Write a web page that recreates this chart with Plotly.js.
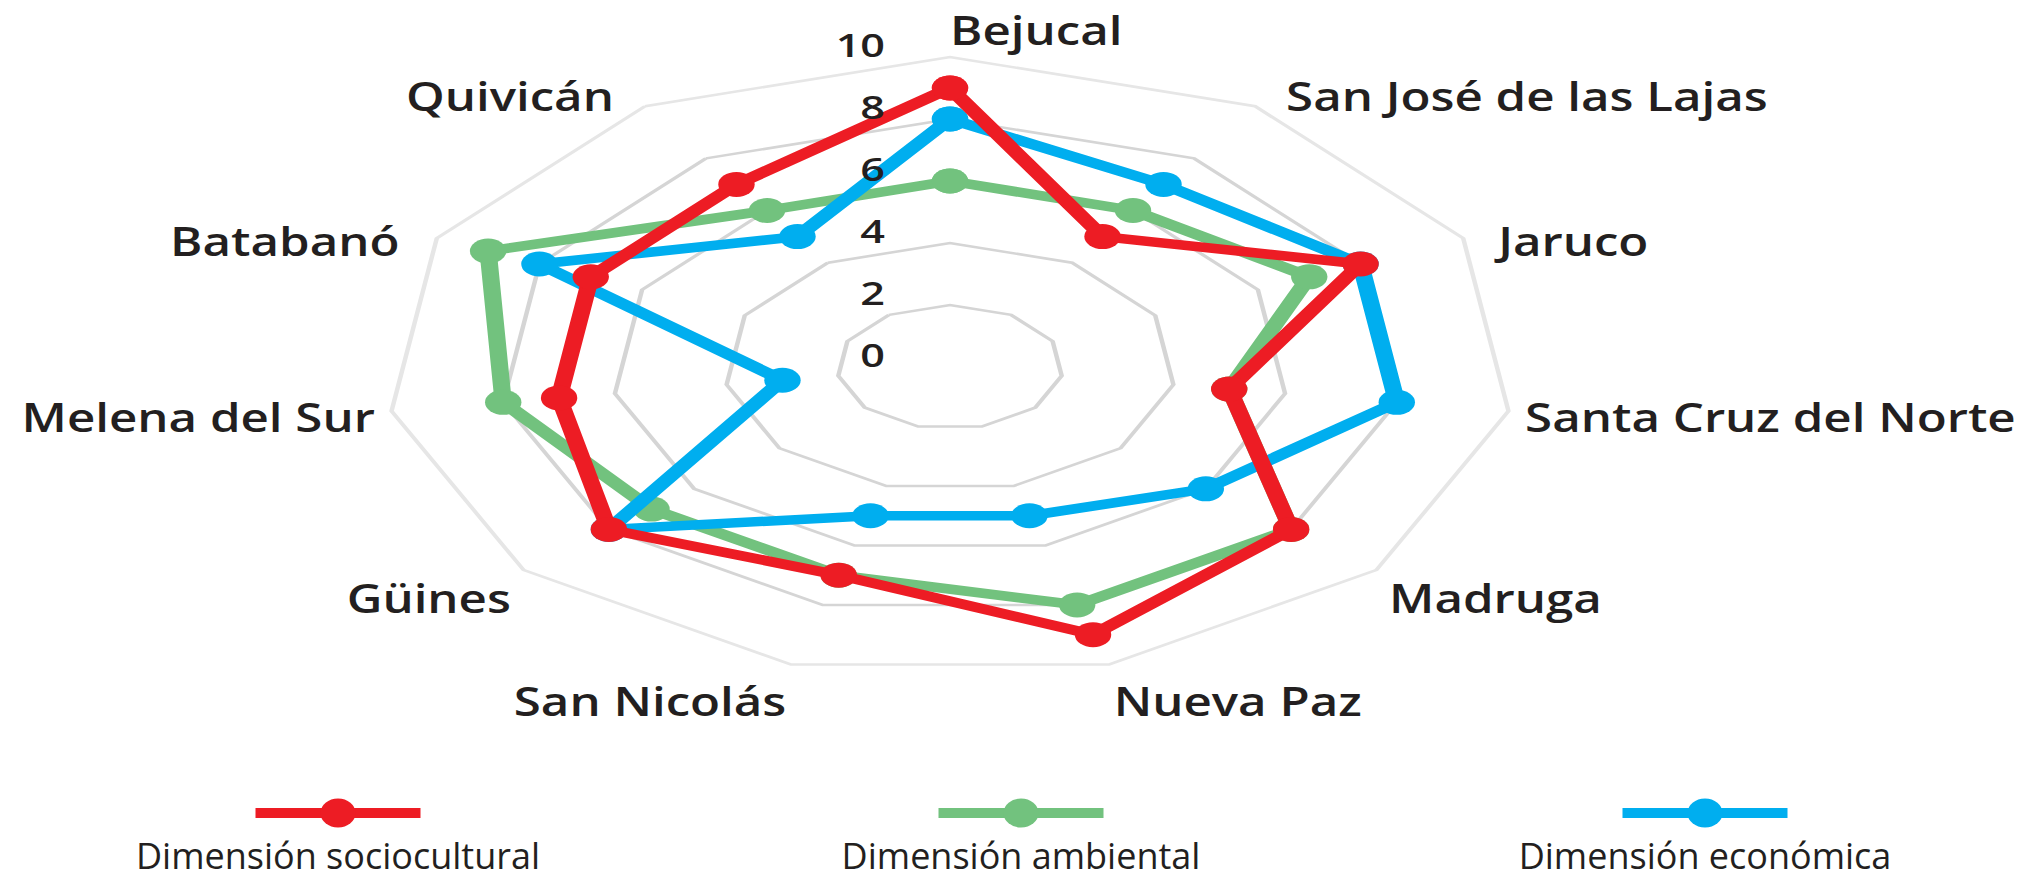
<!DOCTYPE html>
<html>
<head>
<meta charset="utf-8">
<script src="https://cdn.plot.ly/plotly-3.0.1.min.js"></script>
<style>
html,body{margin:0;padding:0;background:#ffffff;overflow:hidden}
#chart{width:2023px;height:879px}
</style>
</head>
<body>
<div id="chart"></div>
<script>
// ---- data ----
const categories = ['Bejucal','San José de las Lajas','Jaruco','Santa Cruz del Norte','Madruga','Nueva Paz','San Nicolás','Güines','Melena del Sur','Batabanó','Quivicán'];
const sociocultural = [9, 5, 8, 5, 8, 9, 7, 8, 7, 7, 7];
const ambiental     = [6, 6, 7, 5, 8, 8, 7, 7, 8, 9, 6];
const economica     = [8, 7, 8, 8, 6, 5, 5, 8, 3, 8, 5];
const seriesNames = ['Dimensión sociocultural', 'Dimensión ambiental', 'Dimensión económica'];
const radialTicks = [0, 2, 4, 6, 8, 10];

// ---- style ----
const RED = '#ED1C24', GREEN = '#72C27E', BLUE = '#00AEEF', INK = '#231F20';
const W = 2023, H = 879;
const M = {l: 330, r: 453, t: 57, b: 202};
const STRETCH = 1.82;         // horizontal stretch of the radar
const LABEL_STRETCH = 1.23;   // horizontal stretch of category labels
const TICK_STRETCH = 1.35;    // horizontal stretch of radial tick labels

function closed(arr) { return arr.concat([arr[0]]); }
function mk(name, vals, color, rank) {
  return {
    type: 'scatterpolar', mode: 'lines+markers', name: name,
    theta: closed(categories), r: closed(vals),
    line: {color: color, width: 9.5},
    marker: {color: color, size: 25, symbol: 'circle'},
    legendrank: rank, cliponaxis: false
  };
}
const traces = [
  mk(seriesNames[1], ambiental, GREEN, 2),
  mk(seriesNames[2], economica, BLUE, 3),
  mk(seriesNames[0], sociocultural, RED, 1)
];

const layout = {
  width: W, height: H,
  margin: M,
  paper_bgcolor: '#ffffff',
  font: {family: '"Open Sans", "DejaVu Sans", sans-serif', color: INK},
  showlegend: true,
  legend: {orientation: 'h', x: 0, y: -0.1, xanchor: 'left', yanchor: 'top',
           bgcolor: 'rgba(0,0,0,0)', font: {size: 36, color: INK}},
  polar: {
    bgcolor: '#ffffff',
    gridshape: 'linear',
    domain: {x: [0, 1], y: [0, 1]},
    radialaxis: {
      range: [0, 10], tickvals: radialTicks, ticktext: radialTicks.map(String),
      angle: 90, side: 'counterclockwise', tickangle: 90,
      showline: false, ticks: 'outside', ticklen: 24, tickcolor: 'rgba(0,0,0,0)',
      gridcolor: '#d5d5d5', gridwidth: 2.5,
      tickfont: {size: 32, color: INK, weight: 600}
    },
    angularaxis: {
      type: 'category', categoryarray: categories,
      direction: 'clockwise', rotation: 90,
      showgrid: false, showline: true, linecolor: '#e6e6e6', linewidth: 2.5,
      ticks: '', tickfont: {size: 40, color: INK, weight: 600}
    }
  }
};

const gd = document.getElementById('chart');
Plotly.newPlot(gd, traces, layout, {staticPlot: true, displayModeBar: false}).then(post);

function post() {
  let cx = M.l + (W - M.l - M.r) / 2, cy = M.t + (H - M.t - M.b) / 2;
  try {
    const sub = gd._fullLayout.polar._subplot;
    if (sub && isFinite(sub.cx)) { cx = sub.cx; cy = sub.cy; }
  } catch (e) {}

  // stretch graphic layers about the centre
  ['plotbg','backplot','angular-grid','radial-grid','frontplot','angular-line','radial-line'].forEach(n => {
    gd.querySelectorAll('.polarlayer g.' + n).forEach(g => {
      if (g.parentNode.closest && g.parentNode.closest('g.' + n)) return;
      const o = g.getAttribute('transform') || '';
      g.setAttribute('transform', `translate(${cx},${cy}) scale(${STRETCH},1) translate(${-cx},${-cy}) ${o}`);
    });
  });
  // make markers less elongated
  gd.querySelectorAll('.polarlayer .frontplot path.point').forEach(p => {
    const o = p.getAttribute('transform') || '';
    p.setAttribute('transform', o + ' scale(0.8,1)');
  });

  // move & stretch text
  function adjustText(el, stretch, extraDy, isLabel) {
    const r = el.getBoundingClientRect();
    if (!r.width) return;
    const svg = el.ownerSVGElement;
    const sr = svg.getBoundingClientRect();
    const anc = el.getAttribute('text-anchor') || 'start';
    const bb = el.getBBox();
    const pcy = (r.top + r.bottom) / 2 - sr.top;
    let pax, lax, extraDx = 0;
    if (anc === 'end') { pax = r.right; lax = bb.x + bb.width; }
    else if (anc === 'middle') {
      pax = (r.left + r.right) / 2; lax = bb.x + bb.width / 2;
      if (isLabel) { extraDx = r.width * stretch / 2; extraDy += 5; }
    }
    else { pax = r.left; lax = bb.x; }
    if (isLabel && anc !== 'middle' && pcy < cy - 60) {
      extraDx += (anc === 'end' ? -22 : 22);
      extraDy += 12;
    }
    const dx = (STRETCH - 1) * (pax - (sr.left + cx)) + extraDx;
    const inv = el.parentNode.getScreenCTM().inverse();
    const p0 = svg.createSVGPoint();
    const p1 = svg.createSVGPoint(); p1.x = dx; p1.y = extraDy;
    const a = p0.matrixTransform(inv), b = p1.matrixTransform(inv);
    const ly = bb.y + bb.height / 2;
    const o = el.getAttribute('transform') || '';
    el.setAttribute('transform', `translate(${b.x - a.x},${b.y - a.y}) ${o} translate(${lax},${ly}) scale(${stretch},1) translate(${-lax},${-ly})`);
  }
  const texts = Array.from(gd.querySelectorAll('.polarlayer text'));
  texts.forEach(t => {
    const isNum = /^\s*-?\d+(\.\d+)?\s*$/.test(t.textContent);
    adjustText(t, isNum ? TICK_STRETCH : LABEL_STRETCH, isNum ? -10 : 0, !isNum);
  });

  // legend: symbol above centred text
  const legendCentersX = [338, 1021, 1705];
  const legendSymbolY = 813, legendBaseline = 869;
  const lg = gd.querySelector('.legend');
  if (!lg) return;
  lg.querySelectorAll('[clip-path]').forEach(e => e.removeAttribute('clip-path'));
  lg.querySelectorAll('.traces').forEach((t, i) => {
    const line = t.querySelector('path.js-line');
    const pt = t.querySelector('path.scatterpts');
    if (line) {
      const bb = line.getBBox();
      const sw = parseFloat(getComputedStyle(line).strokeWidth) || 5;
      const mx = bb.x + bb.width / 2, my = bb.y + bb.height / 2;
      line.setAttribute('transform', `translate(${mx},${my}) scale(${165 / bb.width},${10 / sw}) translate(${-mx},${-my})`);
    }
    if (pt) {
      const bb = pt.getBBox();
      const o = pt.getAttribute('transform') || '';
      pt.setAttribute('transform', `${o} scale(${35 / bb.width},${29 / bb.height})`);
    }
    const ref = pt || line;
    if (ref) {
      const r = ref.getBoundingClientRect();
      const dx = legendCentersX[i] - (r.left + r.right) / 2;
      const dy = legendSymbolY - (r.top + r.bottom) / 2;
      const o = t.getAttribute('transform') || '';
      t.setAttribute('transform', `translate(${dx},${dy}) ${o}`);
    }
    const txt = t.querySelector('text.legendtext');
    if (txt) {
      const svg = txt.ownerSVGElement;
      txt.setAttribute('text-anchor', 'middle');
      txt.setAttribute('x', 0); txt.setAttribute('y', 0);
      txt.querySelectorAll('tspan').forEach(s => { s.removeAttribute('x'); s.removeAttribute('dy'); s.removeAttribute('y'); });
      const m = txt.getScreenCTM();
      const sr = svg.getBoundingClientRect();
      const p = svg.createSVGPoint();
      const sp = p.matrixTransform(m);
      txt.setAttribute('x', legendCentersX[i] + sr.left - sp.x);
      txt.setAttribute('y', legendBaseline + sr.top - sp.y);
    }
  });
}
</script>
</body>
</html>
